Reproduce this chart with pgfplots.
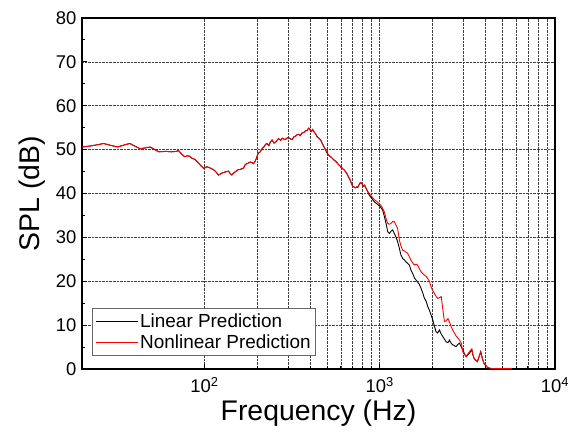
\documentclass[border=0pt]{standalone}
\usepackage{pgfplots}
\usepackage{pgfplotstable}
\usepackage{fontspec}
\setmainfont{Liberation Sans}
\pgfplotsset{compat=1.18}

% Part of the spectrum where both predictions coincide
\pgfplotstableread{
f dB
20 50.6
22 50.8
24.5 51.1
26.5 51.4
29 51.0
32 50.6
35 51.1
37.5 51.4
40 50.8
43 50.2
46 50.4
49 50.6
52 50.0
55 49.5
60 49.6
65 49.5
69 49.6
71 49.8
74 49.0
77 48.4
80 48.6
82 48.5
85 48.0
88 47.8
92 47.0
96 46.2
99 45.7
103 46.1
108 45.8
113 45.4
117 44.8
120 44.2
125 44.6
131 44.9
137 45.1
140 44.6
143 44.2
148 44.8
155 45.4
160 45.5
167 45.8
171 46.6
177 46.9
183 47.2
191 46.8
197 47.8
202 49.1
208 49.5
213 50.2
218 50.6
223 51.2
227 51.4
233 50.9
238 51.8
243 52.2
249 51.5
254 51.6
260 52.2
265 52.5
272 52.1
278 52.6
284 52.4
290 52.3
297 52.7
303 52.7
310 52.4
316 52.3
323 52.9
331 53.1
338 53.4
345 53.5
352 53.2
360 53.8
369 53.9
377 54.3
385 54.3
392 54.9
398 54.8
403 54.2
407 54.1
414 54.6
421 54.1
430 53.6
440 52.9
450 52.6
460 52.2
470 51.4
481 50.6
492 49.8
502 49.1
515 48.6
527 48.3
536 48.0
550 47.6
562 47.3
573 46.9
585 46.5
598 46.1
612 45.7
625 45.4
640 44.9
652 44.4
663 43.8
675 43.2
688 42.4
700 41.7
712 41.5
725 41.3
740 41.5
749 41.4
760 41.9
775 42.5
790 42.3
805 41.6
820 41.9
835 41.2
850 40.6
}\common

% Linear prediction above 850 Hz
\pgfplotstableread{
f dB
850 40.6
871 39.6
900 38.9
930 38.1
960 37.7
993 37.2
1015 36.8
1039 36.2
1062 34.8
1086 33.2
1110 31.3
1135 30.9
1160 31.4
1185 31.7
1211 30.9
1238 30.1
1265 29.0
1294 27.5
1320 26.0
1351 25.2
1380 24.9
1412 24.4
1440 24.1
1475 23.7
1506 22.6
1541 21.8
1576 20.8
1610 20.3
1645 19.8
1682 19.3
1720 18.4
1757 17.4
1799 16.1
1837 15.5
1880 14.2
1920 13.4
1964 12.3
2006 11.2
2050 9.8
2095 8.5
2140 8.2
2190 8.9
2240 8.0
2290 7.4
2340 6.8
2392 6.2
2450 6.0
2500 6.6
2560 5.8
2612 5.5
2670 5.3
2730 5.1
2790 5.6
2850 5.9
2920 5.0
2980 4.3
3050 3.4
3115 2.8
3180 3.2
3250 3.6
3300 4.0
3355 4.3
3400 3.2
3455 2.4
3530 2.0
3605 1.7
3690 2.8
3770 3.9
3850 2.4
3930 1.3
4020 0.8
4110 0.4
4250 0.1
4400 0.0
}\linpred

% Nonlinear prediction above 850 Hz
\pgfplotstableread{
f dB
850 40.6
871 40.0
900 39.3
930 38.6
960 38.2
993 37.7
1030 36.9
1062 35.8
1086 34.3
1110 33.2
1135 33.0
1160 33.2
1185 33.6
1211 33.6
1238 32.8
1265 32.0
1294 29.4
1320 28.1
1351 27.1
1395 26.8
1440 26.4
1475 25.6
1506 24.8
1540 24.2
1574 23.7
1610 23.9
1644 23.7
1680 22.9
1718 22.2
1757 21.8
1799 21.4
1840 21.1
1880 20.6
1920 20.0
1964 18.7
2006 17.9
2052 17.2
2100 16.5
2145 16.1
2195 16.3
2243 16.5
2290 13.6
2340 10.8
2395 11.0
2450 11.5
2505 10.6
2560 9.6
2615 8.8
2675 8.1
2740 7.4
2800 7.0
2860 6.5
2920 5.9
2980 3.9
3050 3.3
3115 2.8
3180 3.4
3250 3.9
3300 4.3
3355 4.6
3400 3.3
3455 2.4
3530 2.0
3605 1.7
3690 2.9
3770 4.0
3850 2.5
3930 1.3
4020 0.8
4110 0.4
4250 0.2
4400 0.1
4700 0.1
5000 0.1
5400 0.1
5700 0.1
}\nonlinpred

\begin{document}
\begin{tikzpicture}
\begin{axis}[
  scale only axis,
  width=473bp, height=351bp,
  xmode=log,
  xmin=20, xmax=10000,
  ymin=0, ymax=80,
  xtick={100,1000,10000},
  xticklabels={10\textsuperscript{2},10\textsuperscript{3},10\textsuperscript{4}},
  ytick={0,10,...,80},
  minor y tick num=1,
  xtick pos=bottom, ytick pos=left,
  tick align=inside,
  major tick length=5bp, minor tick length=3bp,
  every tick/.style={black, line width=0.9pt},
  axis line style={line width=1.2pt},
  xmajorgrids, xminorgrids, ymajorgrids,
  grid style={black!75, densely dotted, line width=0.6pt},
  tick label style={font=\fontsize{18.5}{20}\selectfont},
  yticklabel style={xshift=-2bp},
  xticklabel style={yshift=-5bp},
  /pgf/number format/assume math mode=true,
  xlabel={Frequency (Hz)},
  ylabel={SPL (dB)},
  label style={font=\fontsize{28.5}{32}\selectfont},
  xlabel style={yshift=0bp},
  ylabel style={yshift=4bp},
  legend style={at={(0.021,0.037)}, anchor=south west,
    draw=black!60, line width=0.8pt, fill=white,
    font=\fontsize{19}{21}\selectfont,
    row sep=1.5bp, inner xsep=3bp, inner ysep=3.5bp},
  legend cell align=left,
  legend image code/.code={\draw[#1, line width=0.9pt] (0bp,0bp) -- (42bp,0bp);},
]
\addplot[black, line width=0.9pt] table[x=f, y=dB] {\linpred};
\addlegendentry{Linear Prediction}
\addplot[red, line width=0.9pt] table[x=f, y=dB] {\nonlinpred};
\addlegendentry{Nonlinear Prediction}
\addplot[black, line width=0.9pt, forget plot] table[x=f, y=dB] {\common};
\addplot[red, line width=0.9pt, forget plot] table[x=f, y=dB] {\common};
\end{axis}
\path (-82bp,-70bp) rectangle (491bp,369bp);
\end{tikzpicture}
\end{document}
